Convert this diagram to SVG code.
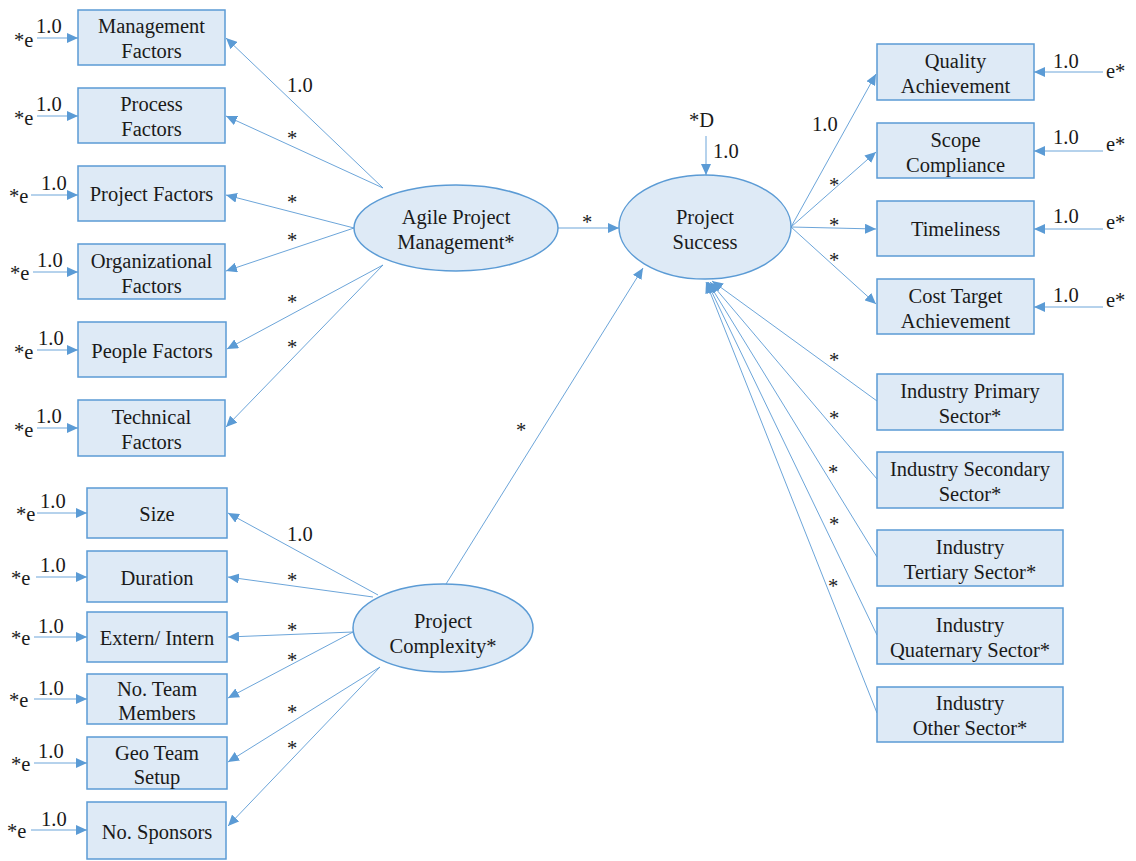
<svg xmlns="http://www.w3.org/2000/svg" width="1136" height="861" viewBox="0 0 1136 861" font-family="Liberation Serif, Times New Roman, Times, serif" font-size="20.5">
<style>
.box{fill:#DEEAF6;stroke:#5B9BD5;stroke-width:1.5}
.ell{fill:#DEEAF6;stroke:#5B9BD5;stroke-width:1.5}
text{fill:#1a1a1a}
.t{text-anchor:middle}
.c{stroke:#5B9BD5;stroke-width:0.9;fill:none;marker-end:url(#ah)}
</style>
<defs>
<marker id="ah" markerUnits="userSpaceOnUse" markerWidth="12" markerHeight="10" refX="11" refY="5" orient="auto">
<path d="M0,0 L11,5 L0,10 z" fill="#5B9BD5"/>
</marker>
</defs>
<rect width="1136" height="861" fill="#ffffff"/>

<g id="connectors">
<line class="c" x1="383" y1="188" x2="226" y2="38"/>
<line class="c" x1="383" y1="188" x2="226" y2="116"/>
<line class="c" x1="354" y1="228" x2="226" y2="195"/>
<line class="c" x1="354" y1="228" x2="226" y2="271"/>
<line class="c" x1="383" y1="265" x2="227" y2="349"/>
<line class="c" x1="383" y1="265" x2="226" y2="427"/>
<line class="c" x1="378" y1="595" x2="228" y2="513"/>
<line class="c" x1="373" y1="597" x2="228" y2="577"/>
<line class="c" x1="353" y1="632" x2="228" y2="637"/>
<line class="c" x1="353" y1="632" x2="228" y2="698"/>
<line class="c" x1="380" y1="667" x2="228" y2="762"/>
<line class="c" x1="380" y1="667" x2="228" y2="826"/>
<line class="c" x1="37" y1="38" x2="78" y2="38"/>
<line class="c" x1="37" y1="116" x2="78" y2="116"/>
<line class="c" x1="31" y1="195" x2="78" y2="195"/>
<line class="c" x1="33" y1="272" x2="78" y2="272"/>
<line class="c" x1="37" y1="350" x2="78" y2="350"/>
<line class="c" x1="37" y1="428" x2="78" y2="428"/>
<line class="c" x1="37" y1="513" x2="87" y2="513"/>
<line class="c" x1="36" y1="577" x2="87" y2="577"/>
<line class="c" x1="34" y1="637" x2="87" y2="637"/>
<line class="c" x1="34" y1="699" x2="87" y2="699"/>
<line class="c" x1="34" y1="763" x2="87" y2="763"/>
<line class="c" x1="31" y1="830" x2="87" y2="830"/>
<line class="c" x1="558" y1="228" x2="619" y2="228"/>
<line class="c" x1="446" y1="584" x2="643" y2="268"/>
<line class="c" x1="706" y1="136" x2="706" y2="175"/>
<line class="c" x1="791" y1="227" x2="876" y2="74"/>
<line class="c" x1="791" y1="227" x2="876" y2="152"/>
<line class="c" x1="791" y1="227" x2="876" y2="229"/>
<line class="c" x1="791" y1="227" x2="876" y2="304"/>
<line class="c" x1="1103" y1="72" x2="1034" y2="72"/>
<line class="c" x1="1103" y1="151" x2="1034" y2="151"/>
<line class="c" x1="1103" y1="229" x2="1034" y2="229"/>
<line class="c" x1="1103" y1="307" x2="1034" y2="307"/>
<line class="c" x1="877" y1="401" x2="712" y2="281"/>
<line class="c" x1="877" y1="479" x2="710" y2="282"/>
<line class="c" x1="877" y1="557" x2="708" y2="282"/>
<line class="c" x1="877" y1="635" x2="707" y2="282"/>
<line class="c" x1="877" y1="713" x2="706" y2="282"/>
</g>

<g id="labels">
<text x="287" y="92">1.0</text>
<text x="287" y="145">*</text>
<text x="287" y="209">*</text>
<text x="287" y="247">*</text>
<text x="287" y="309">*</text>
<text x="287" y="354">*</text>
<text x="287" y="541">1.0</text>
<text x="287" y="587">*</text>
<text x="287" y="637">*</text>
<text x="287" y="667">*</text>
<text x="287" y="719">*</text>
<text x="287" y="755">*</text>
<text x="582" y="229">*</text>
<text x="516" y="437">*</text>
<text x="689" y="127">*D</text>
<text x="713" y="158">1.0</text>
<text x="812" y="131">1.0</text>
<text x="829" y="192">*</text>
<text x="829" y="232">*</text>
<text x="829" y="267">*</text>
<text x="829" y="367">*</text>
<text x="829" y="425">*</text>
<text x="828" y="479">*</text>
<text x="829" y="531">*</text>
<text x="828" y="593">*</text>
<text x="14" y="47">*e</text><text x="36" y="33">1.0</text>
<text x="14" y="125">*e</text><text x="36" y="111">1.0</text>
<text x="9" y="203">*e</text><text x="41" y="190">1.0</text>
<text x="10" y="280">*e</text><text x="37" y="267">1.0</text>
<text x="14" y="359">*e</text><text x="38" y="345">1.0</text>
<text x="14" y="437">*e</text><text x="36" y="423">1.0</text>
<text x="16" y="521">*e</text><text x="40" y="508">1.0</text>
<text x="11" y="585">*e</text><text x="40" y="572">1.0</text>
<text x="11" y="645">*e</text><text x="38" y="633">1.0</text>
<text x="9" y="707">*e</text><text x="38" y="695">1.0</text>
<text x="11" y="771">*e</text><text x="38" y="758">1.0</text>
<text x="7" y="838">*e</text><text x="41" y="826">1.0</text>
<text x="1053" y="68">1.0</text><text x="1106" y="78">e*</text>
<text x="1053" y="144">1.0</text><text x="1106" y="151">e*</text>
<text x="1053" y="223">1.0</text><text x="1106" y="229">e*</text>
<text x="1053" y="302">1.0</text><text x="1106" y="307">e*</text>
</g>

<g id="n-management"><rect class="box" x="78" y="10" width="147" height="55"/><text class="t" x="151.5" y="33">Management</text><text class="t" x="151.5" y="58">Factors</text></g>
<g id="n-process"><rect class="box" x="78" y="88" width="147" height="55"/><text class="t" x="151.5" y="111">Process</text><text class="t" x="151.5" y="136">Factors</text></g>
<g id="n-project"><rect class="box" x="78" y="166" width="147" height="55"/><text class="t" x="151.5" y="201">Project Factors</text></g>
<g id="n-organizational"><rect class="box" x="78" y="244" width="147" height="55"/><text class="t" x="151.5" y="268">Organizational</text><text class="t" x="151.5" y="293">Factors</text></g>
<g id="n-people"><rect class="box" x="78" y="322" width="148" height="55"/><text class="t" x="152" y="358">People Factors</text></g>
<g id="n-technical"><rect class="box" x="78" y="400" width="147" height="56"/><text class="t" x="151.5" y="424">Technical</text><text class="t" x="151.5" y="449">Factors</text></g>

<g id="n-size"><rect class="box" x="87" y="488" width="140" height="50"/><text class="t" x="157" y="521">Size</text></g>
<g id="n-duration"><rect class="box" x="87" y="551" width="140" height="51"/><text class="t" x="157" y="585">Duration</text></g>
<g id="n-extern"><rect class="box" x="87" y="612" width="140" height="50"/><text class="t" x="157" y="645">Extern/ Intern</text></g>
<g id="n-team"><rect class="box" x="87" y="674" width="140" height="50"/><text class="t" x="157" y="696">No. Team</text><text class="t" x="157" y="720">Members</text></g>
<g id="n-geo"><rect class="box" x="87" y="737" width="140" height="52"/><text class="t" x="157" y="760">Geo Team</text><text class="t" x="157" y="784">Setup</text></g>
<g id="n-sponsors"><rect class="box" x="87" y="802" width="139" height="57"/><text class="t" x="157" y="839">No. Sponsors</text></g>

<g id="n-agile"><ellipse class="ell" cx="456" cy="228" rx="102" ry="43"/><text class="t" x="456" y="224">Agile Project</text><text class="t" x="456" y="249">Management*</text></g>
<g id="n-success"><ellipse class="ell" cx="705" cy="227" rx="86" ry="52"/><text class="t" x="705" y="224">Project</text><text class="t" x="705" y="249">Success</text></g>
<g id="n-complexity"><ellipse class="ell" cx="443" cy="628" rx="90" ry="44"/><text class="t" x="443" y="628">Project</text><text class="t" x="443" y="653">Complexity*</text></g>

<g id="n-quality"><rect class="box" x="877" y="44" width="157" height="56"/><text class="t" x="955.5" y="68">Quality</text><text class="t" x="955.5" y="93">Achievement</text></g>
<g id="n-scope"><rect class="box" x="877" y="123" width="157" height="55"/><text class="t" x="955.5" y="147">Scope</text><text class="t" x="955.5" y="172">Compliance</text></g>
<g id="n-timeliness"><rect class="box" x="877" y="201" width="157" height="55"/><text class="t" x="955.5" y="236">Timeliness</text></g>
<g id="n-cost"><rect class="box" x="877" y="279" width="157" height="55"/><text class="t" x="955.5" y="303">Cost Target</text><text class="t" x="955.5" y="328">Achievement</text></g>

<g id="n-primary"><rect class="box" x="877" y="374" width="186" height="56"/><text class="t" x="970" y="398">Industry Primary</text><text class="t" x="970" y="423">Sector*</text></g>
<g id="n-secondary"><rect class="box" x="877" y="452" width="186" height="56"/><text class="t" x="970" y="476">Industry Secondary</text><text class="t" x="970" y="501">Sector*</text></g>
<g id="n-tertiary"><rect class="box" x="877" y="530" width="186" height="56"/><text class="t" x="970" y="554">Industry</text><text class="t" x="970" y="579">Tertiary Sector*</text></g>
<g id="n-quaternary"><rect class="box" x="877" y="608" width="186" height="56"/><text class="t" x="970" y="632">Industry</text><text class="t" x="970" y="657">Quaternary Sector*</text></g>
<g id="n-other"><rect class="box" x="877" y="687" width="186" height="55"/><text class="t" x="970" y="710">Industry</text><text class="t" x="970" y="735">Other Sector*</text></g>
</svg>
